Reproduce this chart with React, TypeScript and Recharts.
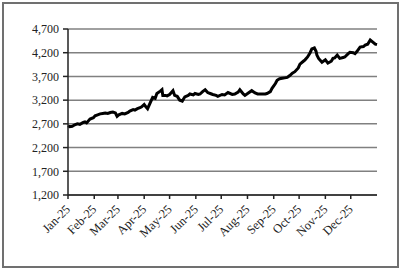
import { CartesianGrid, Line, LineChart, XAxis, YAxis } from "recharts";

// day of year (0 = 1 Jan 2025) and index level
const days = [
  0, 2, 5, 8, 11, 14, 18, 20, 22, 26, 30, 32, 35, 38, 41, 44, 47, 50, 53, 56,
  58, 60, 64, 67, 71, 73, 77, 79, 82, 85, 87, 90, 92, 94, 98, 100, 103, 105,
  109, 111, 112, 115, 117, 120, 124, 126, 129, 132, 135, 138, 142, 144, 148,
  150, 154, 156, 159, 162, 165, 168, 171, 175, 177, 182, 185, 189, 194, 197,
  201, 203, 207, 209, 213, 217, 221, 224, 229, 233, 235, 239, 241, 245, 247,
  250, 253, 256, 259, 262, 265, 268, 272, 274, 278, 280, 283, 286, 288, 291,
  293, 294, 296, 300, 304, 307, 311, 313, 315, 318, 321, 325, 327, 331, 333,
  337, 339, 341, 345, 349, 351, 354, 357, 359, 363, 365,
];

const values = [
  2660, 2640, 2650, 2680, 2700, 2690, 2730, 2740, 2720, 2800, 2830, 2870, 2890,
  2910, 2920, 2930, 2920, 2940, 2950, 2930, 2860, 2890, 2920, 2910, 2940, 2970,
  3000, 2990, 3020, 3040, 3060, 3110, 3060, 3020, 3180, 3260, 3240, 3340, 3390,
  3420, 3300, 3300, 3290, 3320, 3400, 3300, 3280, 3200, 3180, 3270, 3300, 3330,
  3310, 3340, 3320, 3330, 3380, 3420, 3360, 3340, 3320, 3300, 3280, 3320, 3310,
  3360, 3320, 3330, 3370, 3420, 3330, 3300, 3350, 3400, 3350, 3330, 3330, 3330,
  3340, 3380, 3450, 3550, 3620, 3650, 3660, 3670, 3680, 3720, 3770, 3800, 3880,
  3960, 4020, 4050, 4110, 4200, 4280, 4300, 4230, 4150, 4080, 4000, 4050, 3980,
  4020, 4080, 4090, 4150, 4080, 4100, 4110, 4180, 4210, 4200, 4180, 4220, 4320,
  4330, 4360, 4380, 4470, 4440, 4380, 4370,
];

const monthStarts = [0, 31, 59, 90, 120, 151, 181, 212, 243, 273, 304, 334];
const monthLabels = [
  "Jan-25", "Feb-25", "Mar-25", "Apr-25", "May-25", "Jun-25",
  "Jul-25", "Aug-25", "Sep-25", "Oct-25", "Nov-25", "Dec-25",
];
const yTicks = [1200, 1700, 2200, 2700, 3200, 3700, 4200, 4700];

const data = days.map((d, i) => ({ day: d, value: values[i] }));

const font = "'Liberation Serif', 'Times New Roman', serif";

const MonthTick = (props: any) => {
  const { x, y, payload } = props;
  const idx = monthStarts.indexOf(payload.value);
  return (
    <g transform={`translate(${x + 3},${y + 9})`}>
      <text
        x={0}
        y={0}
        textAnchor="end"
        transform="rotate(-45)"
        fontFamily={font}
        fontSize={12.5}
        fill="#222"
      >
        {monthLabels[idx]}
      </text>
    </g>
  );
};

export default function App() {
  return (
    <div style={{ position: "fixed", left: 0, top: 0, width: 400, height: 269, background: "#fff" }}>
      <div
        style={{
          position: "absolute",
          left: 2,
          top: 2,
          width: 393,
          height: 262,
          border: "2px solid #707070",
          pointerEvents: "none",
        }}
      />
      <LineChart
        width={400}
        height={269}
        data={data}
        margin={{ top: 29, right: 23, left: 0, bottom: 0 }}
      >
        <CartesianGrid vertical={false} stroke="#808080" strokeWidth={1.5} />
        <XAxis
          dataKey="day"
          type="number"
          domain={[0, 365]}
          ticks={monthStarts}
          interval={0}
          height={74}
          tick={<MonthTick />}
          tickSize={4}
          axisLine={{ stroke: "#222", strokeWidth: 1.5 }}
          tickLine={{ stroke: "#222", strokeWidth: 1.5 }}
        />
        <YAxis
          type="number"
          domain={[1200, 4700]}
          ticks={yTicks}
          interval={0}
          width={68}
          tickSize={5}
          tickMargin={4}
          tickFormatter={(v: number) => v.toLocaleString("en-US")}
          tick={{ fontFamily: font, fontSize: 12, fill: "#222" }}
          axisLine={{ stroke: "#222", strokeWidth: 1.5 }}
          tickLine={{ stroke: "#222", strokeWidth: 1.5 }}
        />
        <Line
          type="linear"
          dataKey="value"
          stroke="#000"
          strokeWidth={3}
          dot={false}
          isAnimationActive={false}
        />
      </LineChart>
    </div>
  );
}
